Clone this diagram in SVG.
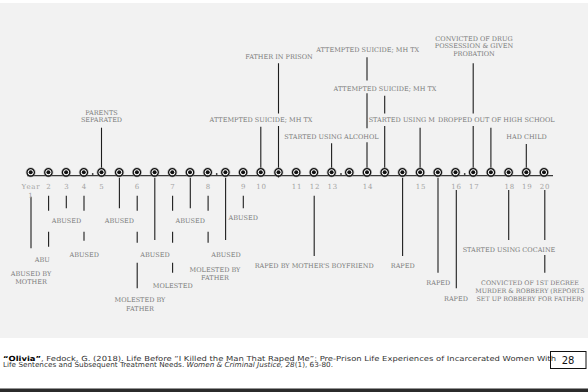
<svg xmlns="http://www.w3.org/2000/svg" width="588" height="392" viewBox="0 0 588 392">
  <style>
    .lbl { font-family: "DejaVu Serif", "Liberation Serif", serif; font-size: 6.5px; fill: #7a7a7a; text-anchor: middle; }
    .yr { font-family: "DejaVu Serif", "Liberation Serif", serif; font-size: 7px; fill: #a3a3a3; text-anchor: middle; letter-spacing: 0.8px; }
    .c { stroke: #1e1e1e; stroke-width: 1.1; fill: none; }
    .axis { stroke: #3a3a3a; stroke-width: 1.3; }
    .cap { font-family: "DejaVu Sans", "Liberation Sans", sans-serif; font-size: 7px; fill: #333; }
  </style>
  <defs>
    <g id="marker">
      <circle r="4.6" fill="none" stroke="#9a9a9a" stroke-width="0.6"/>
      <circle r="3.7" fill="#fff" stroke="#111" stroke-width="1.3"/>
      <circle r="2" fill="#111"/>
    </g>
  </defs>

  <!-- page background -->
  <rect x="0" y="0" width="588" height="392" fill="#fff"/>
  <rect x="0" y="3" width="588" height="335" fill="#f2f2f2"/>

  <!-- timeline axis -->
  <g id="axis">
    <line class="axis" x1="27" y1="175.7" x2="553" y2="175.7"/>
    <g fill="#333">
      <circle cx="92.7" cy="174" r="0.9"/>
      <circle cx="216.7" cy="174" r="0.9"/>
      <circle cx="341" cy="174" r="0.9"/>
      <circle cx="464.7" cy="174" r="0.9"/>
    </g>
  </g>

  <!-- connectors -->
  <g id="connectors" class="c">
    <path d="M101.5 127.7V168"/>
    <path d="M278.5 63.3V113.5M278.5 126V177.5"/>
    <path d="M260.8 126.7V168"/>
    <path d="M367 57.3V80.5M367 93.3V128.3M367 142.3V168"/>
    <path d="M384.7 95.7V113.5M384.7 126V168"/>
    <path d="M420.1 127.7V168"/>
    <path d="M473.2 63.3V113.5M473.2 126V168"/>
    <path d="M490.9 127.7V168"/>
    <path d="M331.6 143.3V168"/>
    <path d="M526.3 144V168"/>

    <path d="M31 196.7V248.3"/>
    <path d="M48.6 195.7V210.7M48.6 231.7V246.7"/>
    <path d="M66.3 195.7V208.3"/>
    <path d="M84 195.7V210.7M84 231.7V240.7"/>
    <path d="M119.4 177.7V208.3"/>
    <path d="M137.2 195.7V210.7M137.2 231.7V242.7M137.2 262.7V288.3"/>
    <path d="M154.8 177.7V240"/>
    <path d="M172.6 195.7V210.7M172.6 231.7V242.7M172.6 262.7V272.7"/>
    <path d="M190.3 177.7V208.3"/>
    <path d="M208.1 195.7V210.7M208.1 231.7V242.7"/>
    <path d="M225.6 177.7V240"/>
    <path d="M243.3 195.7V208.3"/>
    <path d="M314.2 195.7V256"/>
    <path d="M402.6 177.7V256"/>
    <path d="M438 177.7V272.7"/>
    <path d="M456.3 190V288.3"/>
    <path d="M508.7 190V240"/>
    <path d="M544.8 190V240M544.8 255V272.7"/>
  </g>

  <!-- markers on the axis -->
  <g id="markers">
    <use id="m0" href="#marker" x="30.7" y="172.3"/>
    <use id="m1" href="#marker" x="48.4" y="172.3"/>
    <use id="m2" href="#marker" x="66.1" y="172.3"/>
    <use id="m3" href="#marker" x="83.8" y="172.3"/>
    <use id="m4" href="#marker" x="101.5" y="172.3"/>
    <use id="m5" href="#marker" x="119.2" y="172.3"/>
    <use id="m6" href="#marker" x="136.9" y="172.3"/>
    <use id="m7" href="#marker" x="154.6" y="172.3"/>
    <use id="m8" href="#marker" x="172.3" y="172.3"/>
    <use id="m9" href="#marker" x="190" y="172.3"/>
    <use id="m10" href="#marker" x="207.7" y="172.3"/>
    <use id="m11" href="#marker" x="225.4" y="172.3"/>
    <use id="m12" href="#marker" x="243.1" y="172.3"/>
    <use id="m13" href="#marker" x="260.8" y="172.3"/>
    <use id="m14" href="#marker" x="278.5" y="172.3"/>
    <use id="m15" href="#marker" x="296.2" y="172.3"/>
    <use id="m16" href="#marker" x="313.9" y="172.3"/>
    <use id="m17" href="#marker" x="331.6" y="172.3"/>
    <use id="m18" href="#marker" x="349.3" y="172.3"/>
    <use id="m19" href="#marker" x="367" y="172.3"/>
    <use id="m20" href="#marker" x="384.7" y="172.3"/>
    <use id="m21" href="#marker" x="402.4" y="172.3"/>
    <use id="m22" href="#marker" x="420.1" y="172.3"/>
    <use id="m23" href="#marker" x="437.8" y="172.3"/>
    <use id="m24" href="#marker" x="455.5" y="172.3"/>
    <use id="m25" href="#marker" x="473.2" y="172.3"/>
    <use id="m26" href="#marker" x="490.9" y="172.3"/>
    <use id="m27" href="#marker" x="508.6" y="172.3"/>
    <use id="m28" href="#marker" x="526.3" y="172.3"/>
    <use id="m29" href="#marker" x="544" y="172.3"/>
  </g>

  <!-- year labels -->
  <g id="years" class="yr">
    <text x="31" y="189">Year</text>
    <text x="31" y="198">1</text>
    <text x="49" y="189">2</text>
    <text x="67" y="189">3</text>
    <text x="84.5" y="189">4</text>
    <text x="102" y="189">5</text>
    <text x="137.5" y="189">6</text>
    <text x="173" y="189">7</text>
    <text x="208.5" y="189">8</text>
    <text x="243.7" y="189">9</text>
    <text x="261.5" y="189">10</text>
    <text x="297" y="189">11</text>
    <text x="315" y="189">12</text>
    <text x="332.7" y="189">13</text>
    <text x="368" y="189">14</text>
    <text x="421" y="189">15</text>
    <text x="456.5" y="189">16</text>
    <text x="474.3" y="189">17</text>
    <text x="509.7" y="189">18</text>
    <text x="527.3" y="189">19</text>
    <text x="545" y="189">20</text>
  </g>

  <!-- events above the axis -->
  <g id="ev-parents-separated" class="lbl"><text x="101.5" y="114.7">PARENTS</text><text x="101.5" y="122.4">SEPARATED</text></g>
  <g id="ev-father-prison" class="lbl"><text x="279" y="59">FATHER IN PRISON</text></g>
  <g id="ev-suicide-1" class="lbl"><text x="261" y="121.7">ATTEMPTED SUICIDE; MH TX</text></g>
  <g id="ev-suicide-2" class="lbl"><text x="367.7" y="51.6">ATTEMPTED SUICIDE; MH TX</text></g>
  <g id="ev-suicide-3" class="lbl"><text x="385" y="90.7">ATTEMPTED SUICIDE;  MH TX</text></g>
  <g id="ev-alcohol" class="lbl"><text x="331.5" y="139">STARTED USING ALCOHOL</text></g>
  <g id="ev-using-m" class="lbl"><text x="435" y="121.7" style="text-anchor:end">STARTED USING M</text></g>
  <g id="ev-dropped-out" class="lbl"><text x="438" y="121.7" style="text-anchor:start">DROPPED OUT OF HIGH SCHOOL</text></g>
  <g id="ev-drug-conviction" class="lbl"><text x="474" y="40.7">CONVICTED OF DRUG</text><text x="474" y="48.4">POSSESSION &amp; GIVEN</text><text x="474" y="56.4">PROBATION</text></g>
  <g id="ev-had-child" class="lbl"><text x="526.5" y="139">HAD CHILD</text></g>

  <!-- events below the axis -->
  <g id="ev-abused-a" class="lbl"><text x="66.5" y="223.4">ABUSED</text></g>
  <g id="ev-abused-b" class="lbl"><text x="119.4" y="223.4">ABUSED</text></g>
  <g id="ev-abused-c" class="lbl"><text x="190.3" y="223.4">ABUSED</text></g>
  <g id="ev-abused-d" class="lbl"><text x="243.3" y="219.7">ABUSED</text></g>
  <g id="ev-abused-e" class="lbl"><text x="84.3" y="256.7">ABUSED</text></g>
  <g id="ev-abused-f" class="lbl"><text x="155" y="256.7">ABUSED</text></g>
  <g id="ev-abused-g" class="lbl"><text x="226" y="256.7">ABUSED</text></g>
  <g id="ev-abu" class="lbl"><text x="42.3" y="262.4">ABU</text></g>
  <g id="ev-abused-mother" class="lbl"><text x="31" y="275.7">ABUSED BY</text><text x="31" y="283.7">MOTHER</text></g>
  <g id="ev-molested-father-a" class="lbl"><text x="140" y="302.4">MOLESTED BY</text><text x="140" y="310.7">FATHER</text></g>
  <g id="ev-molested" class="lbl"><text x="172.7" y="288.4">MOLESTED</text></g>
  <g id="ev-molested-father-b" class="lbl"><text x="215" y="271.7">MOLESTED BY</text><text x="215" y="279.7">FATHER</text></g>
  <g id="ev-raped-boyfriend" class="lbl"><text x="314.2" y="268.4">RAPED BY MOTHER'S BOYFRIEND</text></g>
  <g id="ev-raped-a" class="lbl"><text x="402.7" y="268.4">RAPED</text></g>
  <g id="ev-raped-b" class="lbl"><text x="438.3" y="284.7">RAPED</text></g>
  <g id="ev-raped-c" class="lbl"><text x="456" y="300.7">RAPED</text></g>
  <g id="ev-cocaine" class="lbl"><text x="509" y="251.7">STARTED USING COCAINE</text></g>
  <g id="ev-murder-conviction" class="lbl" style="font-size:6.3px"><text x="530" y="284.7">CONVICTED OF 1ST DEGREE</text><text x="530" y="292.7">MURDER &amp; ROBBERY (REPORTS</text><text x="530" y="300.7">SET UP ROBBERY FOR FATHER)</text></g>

  <!-- source citation -->
  <g id="citation" class="cap">
    <text x="3" y="360.5" textLength="553" lengthAdjust="spacingAndGlyphs"><tspan font-weight="bold" fill="#000">“Olivia”</tspan>, Fedock, G. (2018). Life Before “I Killed the Man That Raped Me”: Pre-Prison Life Experiences of Incarcerated Women With</text>
    <text x="3" y="367.3" textLength="330" lengthAdjust="spacingAndGlyphs">Life Sentences and Subsequent Treatment Needs. <tspan font-style="italic">Women &amp; Criminal Justice, 28</tspan>(1), 63-80.</text>
  </g>

  <!-- slide number -->
  <g id="slide-number">
    <rect x="550.5" y="351.5" width="35.5" height="17" fill="none" stroke="#111" stroke-width="1"/>
    <text x="568" y="364" font-family="DejaVu Sans, Liberation Sans, sans-serif" font-size="10" fill="#111" text-anchor="middle">28</text>
  </g>

  <!-- bottom rule -->
  <rect x="0" y="388.5" width="588" height="3.5" fill="#2b2b2b"/>
</svg>
